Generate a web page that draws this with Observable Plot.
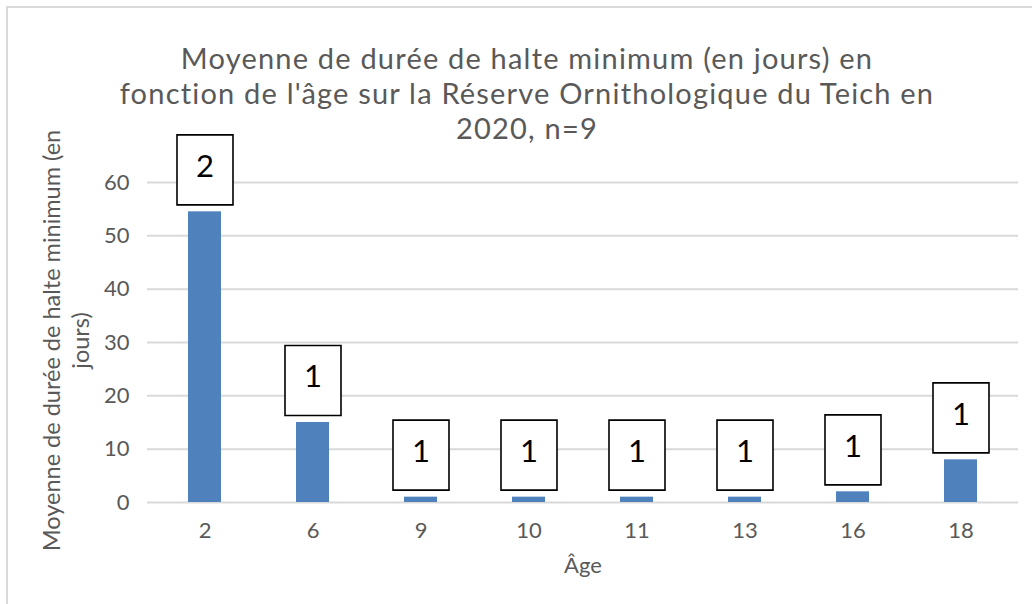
<!DOCTYPE html>
<html>
<head>
<meta charset="utf-8">
<script src="https://cdn.jsdelivr.net/npm/d3@7"></script>
<script src="https://cdn.jsdelivr.net/npm/@observablehq/plot@0.6"></script>
<style>
  html, body { margin: 0; padding: 0; background: #fff; overflow: hidden; }
  #wrap { position: relative; width: 1032px; height: 604px; overflow: hidden; font-family: Lato, "Open Sans", sans-serif; }
  #frame { position: absolute; left: 6px; top: 6px; width: 1040px; height: 620px; border: 2px solid #d9d9d9; box-sizing: border-box; }
  #title { position: absolute; left: 0; top: 40px; width: 1054px; text-align: center; color: #595959; font-size: 29px; letter-spacing: 1.2px; line-height: 35px; }
  #chart { position: absolute; left: 0; top: 0; }
</style>
</head>
<body>
<div id="wrap">
  <div id="frame"></div>
  <div id="chart"></div>
  <div id="title">Moyenne de durée de halte minimum (en jours) en<br>fonction de l'âge sur la Réserve Ornithologique du Teich en<br>2020, n=9</div>
</div>
<script>
// Data
const ages = ["2", "6", "9", "10", "11", "13", "16", "18"];
const meanStay = [54.5, 15, 1, 1, 1, 1, 2, 8];
const counts = [2, 1, 1, 1, 1, 1, 1, 1];
const yTicks = [0, 10, 20, 30, 40, 50, 60];

const rows = ages.map((a, i) => ({age: a, value: meanStay[i], n: counts[i]}));

const boxSymbol = {
  draw(context, size) {
    const w = 28, h = 35;
    context.rect(-w, -h, 2 * w, 2 * h);
  }
};

const textColor = "#595959";

const chart = Plot.plot({
  width: 1032,
  height: 604,
  marginLeft: 147,
  marginRight: 14,
  marginTop: 182,
  marginBottom: 102,
  style: {fontFamily: "Lato, 'Open Sans', sans-serif", background: "transparent"},
  x: {type: "band", domain: ages, paddingInner: 0.69, paddingOuter: 0.345, label: null},
  y: {domain: [0, 60], label: null},
  marks: [
    Plot.gridY(yTicks, {stroke: "#d9d9d9", strokeOpacity: 1, strokeWidth: 2}),
    Plot.barY(rows, {x: "age", y: "value", fill: "#4f81bd"}),
    Plot.dot(rows, {x: "age", y: "value", dy: -42, symbol: boxSymbol, fill: "white", stroke: "black", strokeWidth: 1.6}),
    Plot.text(rows, {x: "age", y: "value", dy: -45, text: d => String(d.n), fontSize: 31, fill: "black"}),
    Plot.axisY({ticks: yTicks, tickSize: 0, tickPadding: 18, fontSize: 22, color: textColor, label: null}),
    Plot.axisX({tickSize: 0, tickPadding: 20, fontSize: 22, color: textColor, label: null}),
    Plot.text(["Âge"], {frameAnchor: "bottom", dy: 70, fontSize: 22, fill: textColor}),
    Plot.text(["Moyenne de durée de halte minimum (en\njours)"], {frameAnchor: "left", textAnchor: "middle", dx: -82, dy: -2, rotate: -90, fontSize: 23.5, lineHeight: 1.2, fill: textColor})
  ]
});
document.getElementById("chart").appendChild(chart);
</script>
</body>
</html>
